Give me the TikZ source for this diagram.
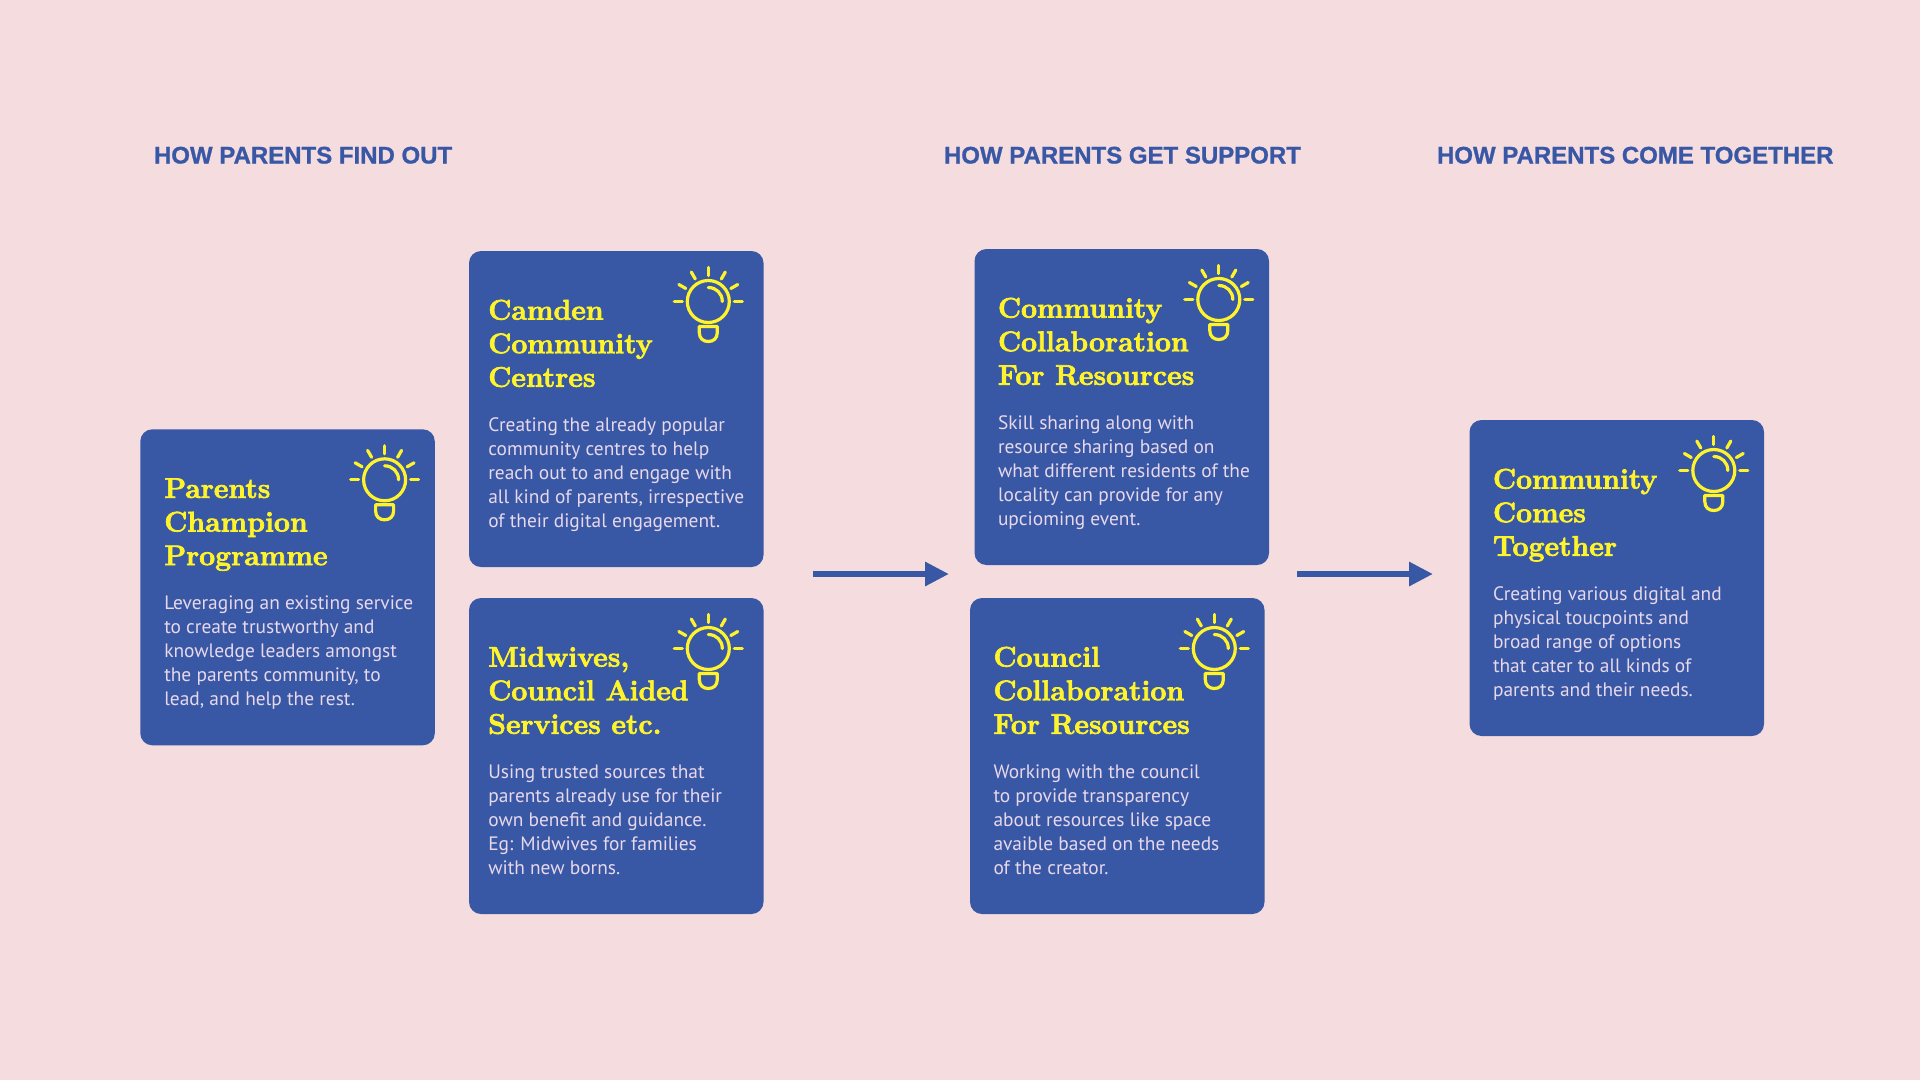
\documentclass[tikz,border=0pt]{standalone}
\usepackage{fontspec}
\usetikzlibrary{arrows.meta}
\newfontfamily\bodyfont{PT Sans}
\newfontfamily\headfont[BoldFeatures={FakeBold=1.0}]{Liberation Sans}
\newfontfamily\titlefont[BoldFeatures={FakeBold=2.4}]{Latin Modern Roman}
\definecolor{bgpink}{HTML}{F5DCDF}
\definecolor{cardblue}{HTML}{3858A6}
\definecolor{bulbyellow}{HTML}{FFF42B}
\definecolor{bodylilac}{HTML}{E8D8EA}
\tikzset{
  x=1pt,y=-1pt,
  cardbox/.style={fill=cardblue,draw=none,rounded corners=12pt,inner sep=0pt,outer sep=0pt,anchor=north west,minimum width=294.5pt,minimum height=316pt},
  cardtitle/.style={anchor=base west,inner sep=0pt,outer sep=0pt,align=left,text=bulbyellow,font=\titlefont\fontsize{28.4}{33.6}\selectfont\bfseries},
  cardbody/.style={anchor=base west,inner sep=0pt,outer sep=0pt,align=left,text=bodylilac,font=\bodyfont\fontsize{19.4}{24}\selectfont},
  header/.style={anchor=base west,inner sep=0pt,outer sep=0pt,text=cardblue,font=\headfont\bfseries\fontsize{24}{28}\selectfont},
  flowarrow/.style={draw=cardblue,line width=6.5pt,-{Triangle[length=24pt,width=23pt]}},
  bulbline/.style={draw=bulbyellow,line width=3.2pt,line cap=round},
  bulb/.pic={
    \draw[bulbline] (0,0) circle[radius=21];
    \draw[bulbline] (0,-14) .. controls (8,-14) and (14,-8) .. (14,0);
    \foreach \a in {0,30,60,90,120,150,180}{\draw[bulbline] (-\a:26) -- (-\a:34);}
    \draw[bulbline,line join=round] (-9,25) -- (9,25) -- (9,31) .. controls (9,37) and (5,40) .. (0,40) .. controls (-5,40) and (-9,37) .. (-9,31) -- cycle;
  }
}
% name, x, y, text dx, bulb dx, title, body  (node base = last line)
\newcommand{\infocard}[7]{%
  \node[cardbox] (#1) at (#2,#3) {};
  \node[cardtitle] (#1title) at ([shift={(#4,135.8)}]#1.north west) {#6};
  \node[cardbody] (#1body) at ([shift={(#4,276.6)}]#1.north west) {#7};
  \path ([shift={(#5-0.7,50.5)}]#1.north west) pic {bulb};
}
\begin{document}
\begin{tikzpicture}
\useasboundingbox (0,0) rectangle (1920,1080);
\fill[bgpink] (0,0) rectangle (1920,1080);

\node[header] (h1) at (154,163.5) {HOW PARENTS FIND OUT};
\node[header] (h2) at (944,163.5) {HOW PARENTS GET SUPPORT};
\node[header] (h3) at (1437,163.5) {HOW PARENTS COME TOGETHER};

\infocard{c1}{140.3}{429.3}{24}{245}{Parents\\Champion\\Programme}{Leveraging an existing service\\to create trustworthy and\\knowledge leaders amongst\\the parents community, to\\lead, and help the rest.}
\infocard{c2}{469}{251}{19.3}{240}{Camden\\Community\\Centres}{Creating the already popular\\community centres to help\\reach out to and engage with\\all kind of parents, irrespective\\of their digital engagement.}
\infocard{c3}{469}{598}{19.3}{240}{Midwives,\\Council Aided\\Services etc.}{Using trusted sources that\\parents already use for their\\own benefit and guidance.\\Eg: Midwives for families\\with new borns.}
\infocard{c4}{974.5}{249}{23.5}{245}{Community\\Collaboration\\For Resources}{Skill sharing along with\\resource sharing based on\\what different residents of the\\locality can provide for any\\upcioming event.}
\infocard{c5}{970}{598}{23.5}{245}{Council\\Collaboration\\For Resources}{Working with the council\\to provide transparency\\about resources like space\\avaible based on the needs\\of the creator.}
\infocard{c6}{1469.5}{420}{23.5}{245}{Community\\Comes\\Together}{Creating various digital and\\physical toucpoints and\\broad range of options\\that cater to all kinds of\\parents and their needs.}

\coordinate (a1s) at (813,574);
\coordinate (a1e) at (949,574);
\coordinate (a2s) at (1297,574);
\coordinate (a2e) at (1433,574);
\draw[flowarrow] (a1s) -- (a1e);
\draw[flowarrow] (a2s) -- (a2e);
\end{tikzpicture}
\end{document}
